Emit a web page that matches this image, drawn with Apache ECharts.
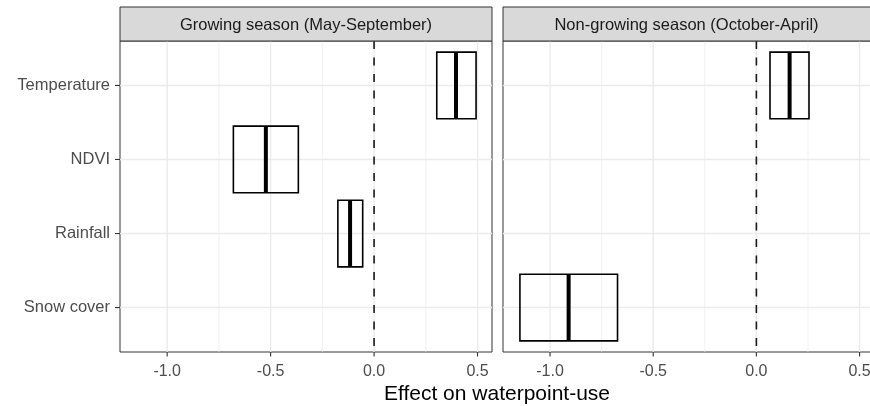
<!DOCTYPE html>
<html>
<head>
<meta charset="utf-8">
<script src="https://cdn.jsdelivr.net/npm/echarts@6/dist/echarts.min.js"></script>
<style>
html,body{margin:0;padding:0;background:#fff;}
#chart{width:870px;height:406px;}
</style>
</head>
<body>
<div id="chart"></div>
<script>
// ---- data ----
const categories = ['Temperature', 'NDVI', 'Rainfall', 'Snow cover'];
const panels = ['Growing season (May-September)', 'Non-growing season (October-April)'];
const growingLow  = [0.303, -0.680, -0.175, null];
const growingMid  = [0.396, -0.523, -0.116, null];
const growingHigh = [0.493, -0.366, -0.055, null];
const nonLow  = [0.066, null, null, -1.146];
const nonMid  = [0.161, null, null, -0.910];
const nonHigh = [0.255, null, null, -0.673];
const xTicks = [-1.0, -0.5, 0.0, 0.5];
const xMinor = [-0.75, -0.25, 0.25];
const xTitle = 'Effect on waterpoint-use';
const refLine = [0];

const FONT = '"Liberation Sans", Arial, Helvetica, sans-serif';

function buildData(lo, mid, hi) {
  const out = [];
  for (let i = 0; i < categories.length; i++) {
    if (lo[i] == null) continue;
    out.push([i + 1, lo[i], mid[i], hi[i]]);
  }
  return out;
}

function renderCrossbar(params, api) {
  const y = api.value(0);
  const lo = api.coord([api.value(1), y]);
  const hi = api.coord([api.value(3), y]);
  const md = api.coord([api.value(2), y]);
  const h = Math.abs(api.size([0, 0.9])[1]);
  return {
    type: 'group',
    children: [
      { type: 'rect', shape: { x: lo[0], y: lo[1] - h / 2, width: hi[0] - lo[0], height: h },
        style: { fill: null, stroke: '#000', lineWidth: 1.6 } },
      { type: 'line', shape: { x1: md[0], y1: md[1] - h / 2, x2: md[0], y2: md[1] + h / 2 },
        style: { stroke: '#000', lineWidth: 4 } }
    ]
  };
}

function vGrid(width, color, dash) {
  return function (params, api) {
    const cs = params.coordSys;
    const p = api.coord([api.value(0), 1]);
    return { type: 'line',
      shape: { x1: p[0], y1: cs.y, x2: p[0], y2: cs.y + cs.height },
      style: { stroke: color, lineWidth: width, lineDash: dash || null } };
  };
}
function hGrid(params, api) {
  const cs = params.coordSys;
  const p = api.coord([0, api.value(0)]);
  return { type: 'line',
    shape: { x1: cs.x, y1: p[1], x2: cs.x + cs.width, y2: p[1] },
    style: { stroke: '#ebebeb', lineWidth: 1.4 } };
}
function xTickMark(params, api) {
  const cs = params.coordSys;
  const p = api.coord([api.value(0), 1]);
  const yb = cs.y + cs.height;
  return { type: 'line', shape: { x1: p[0], y1: yb, x2: p[0], y2: yb + 4.5 },
    style: { stroke: '#333333', lineWidth: 1.1 } };
}
function yTickMark(params, api) {
  const cs = params.coordSys;
  const p = api.coord([0, api.value(0)]);
  return { type: 'line', shape: { x1: cs.x - 5, y1: p[1], x2: cs.x, y2: p[1] },
    style: { stroke: '#333333', lineWidth: 1.1 } };
}

const gridDefs = [
  { left: 120, top: 41, width: 372, height: 311 },
  { left: 503, top: 41, width: 371, height: 311 }
];

const grids = gridDefs.map(g => Object.assign({ show: true, borderColor: '#333333', borderWidth: 1,
  backgroundColor: '#fff', containLabel: false, outerBoundsMode: 'none' }, g));

const xAxes = gridDefs.map((g, i) => ({
  type: 'value', gridIndex: i, min: -1.228, max: 0.57,
  axisLine: { show: false },
  splitLine: { show: false },
  axisTick: { show: false },
  axisLabel: { show: true, customValues: xTicks, color: '#4d4d4d', fontSize: 16, fontFamily: FONT, margin: 12,
    formatter: v => v.toFixed(1) }
}));

const yAxes = gridDefs.map((g, i) => ({
  type: 'value', gridIndex: i, min: 0.4, max: 4.6, inverse: true,
  axisLine: { show: false },
  splitLine: { show: false },
  axisTick: { show: false },
  axisLabel: { show: i === 0, customValues: [1, 2, 3, 4], color: '#4d4d4d', fontSize: 16.5, fontFamily: FONT, margin: 10,
    padding: [4, 0, 0, 0],
    formatter: v => categories[Math.round(v) - 1] || '' }
}));

const series = [];
const datasets = [buildData(growingLow, growingMid, growingHigh), buildData(nonLow, nonMid, nonHigh)];
for (let i = 0; i < 2; i++) {
  series.push({ type: 'custom', xAxisIndex: i, yAxisIndex: i, z: 1, silent: true,
    renderItem: vGrid(0.7, '#ebebeb'), data: xMinor.map(v => [v]), encode: { x: 0 } });
  series.push({ type: 'custom', xAxisIndex: i, yAxisIndex: i, z: 1, silent: true,
    renderItem: vGrid(1.4, '#ebebeb'), data: xTicks.map(v => [v]), encode: { x: 0 } });
  series.push({ type: 'custom', xAxisIndex: i, yAxisIndex: i, z: 1, silent: true,
    renderItem: hGrid, data: categories.map((c, k) => [k + 1]), encode: { y: 0 } });
  series.push({ type: 'custom', xAxisIndex: i, yAxisIndex: i, z: 2, silent: true, clip: false,
    renderItem: xTickMark, data: xTicks.map(v => [v]), encode: { x: 0 } });
  if (i === 0) {
    series.push({ type: 'custom', xAxisIndex: i, yAxisIndex: i, z: 2, silent: true, clip: false,
      renderItem: yTickMark, data: categories.map((c, k) => [k + 1]), encode: { y: 0 } });
  }
  series.push({ type: 'custom', xAxisIndex: i, yAxisIndex: i, z: 2, silent: true,
    renderItem: vGrid(1.6, '#1a1a1a', [8, 8.5]), data: refLine.map(v => [v]), encode: { x: 0 } });
  series.push({ type: 'custom', xAxisIndex: i, yAxisIndex: i, z: 3, silent: true,
    renderItem: renderCrossbar, data: datasets[i], encode: { x: [1, 2, 3], y: 0 } });
}

const graphics = [];
gridDefs.forEach((g, i) => {
  graphics.push({ type: 'rect', shape: { x: g.left, y: 7, width: g.width, height: 34 },
    style: { fill: '#d9d9d9', stroke: '#333333', lineWidth: 1 }, z: 10 });
  graphics.push({ type: 'text', x: g.left + g.width / 2 - (i === 1 ? 2 : 0), y: 25,
    style: { text: panels[i], fill: '#1a1a1a', font: '16.5px ' + FONT, textAlign: 'center', textVerticalAlign: 'middle' }, z: 11 });
});
graphics.push({ type: 'text', x: 497, y: 394,
  style: { text: xTitle, fill: '#000', font: '21px ' + FONT, textAlign: 'center', textVerticalAlign: 'middle' }, z: 11 });

const chart = echarts.init(document.getElementById('chart'), null, { renderer: 'canvas' });
chart.setOption({
  animation: false,
  backgroundColor: '#fff',
  grid: grids,
  xAxis: xAxes,
  yAxis: yAxes,
  series: series,
  graphic: graphics
});
</script>
</body>
</html>
